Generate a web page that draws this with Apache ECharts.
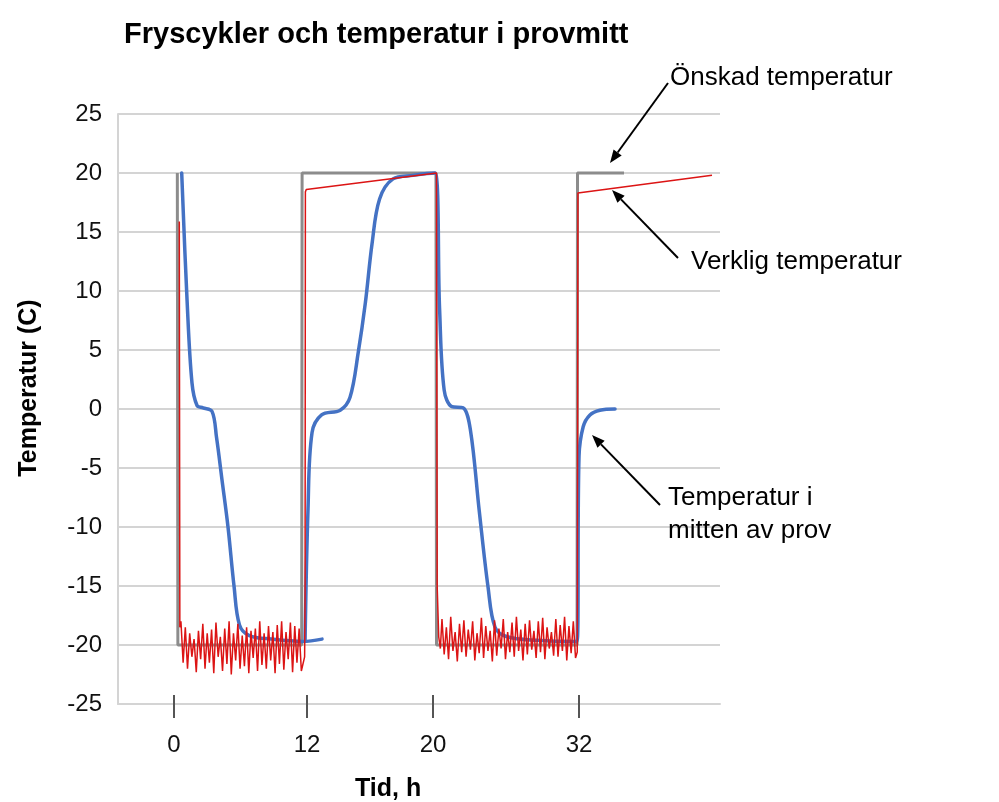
<!DOCTYPE html>
<html>
<head>
<meta charset="utf-8">
<script src="https://cdn.jsdelivr.net/npm/echarts@6/dist/echarts.min.js"></script>
<style>html,body{margin:0;padding:0;background:#fff;}#c{width:999px;height:802px;}</style>
</head>
<body>
<div id="c"></div>
<script>
// ---- Data (x in chart time units; tick positions mapped to labels) ----
var titleText = 'Fryscykler och temperatur i provmitt';
var yTitle = 'Temperatur (C)';
var xTitle = 'Tid, h';
var tickPos = [0.12, 12.27, 23.78, 37.12];
var tickLabels = ['0', '12', '20', '32'];

// Önskad temperatur (set point)
var desired = [[0.42, 20], [0.47, -20], [11.78, -20], [11.82, 20], [24.05, 20], [24.1, -20], [36.94, -20], [36.98, 20], [41.23, 20]];

// Verklig temperatur (actual), logged pieces
var realStart1 = [[0.6, 15.9], [0.65, -18.5]];
var realNoise1Start = 0.75, realNoiseStep = 0.2;
var realNoise1 = [-18.0, -21.5, -18.5, -22.0, -19.0, -21.0, -19.5, -22.3, -18.8, -21.2,
  -18.2, -22.0, -19.0, -21.5, -18.7, -22.4, -18.1, -21.0, -19.3, -22.2,
  -18.6, -21.6, -18.0, -22.5, -19.0, -21.3, -18.2, -22.0, -19.2, -21.8,
  -18.5, -22.4, -18.8, -21.1, -18.6, -22.2, -18.0, -21.7, -19.0, -22.0,
  -18.4, -21.3, -18.9, -22.4, -18.3, -21.6, -18.0, -22.1, -18.9, -21.2,
  -18.1, -22.3, -18.4, -21.5, -18.6, -22.2];
var realMid = [[12.05, -21.0], [12.09, -16.0], [12.12, 18.4], [12.2, 18.6], [24.1, 20.0], [24.16, -15.0], [24.3, -19.3], [24.45, -20.3]];
var realNoise2Start = 24.6;
var realNoise2 = [-17.8, -20.8, -18.5, -21.2, -17.6, -20.5, -18.9, -21.4, -18.2, -20.6,
  -17.9, -21.0, -18.7, -20.4, -18.0, -21.3, -19.0, -20.7, -17.7, -21.1,
  -18.4, -20.5, -18.8, -21.4, -17.9, -20.9, -18.6, -20.3, -17.8, -21.2,
  -18.9, -20.6, -18.1, -21.0, -17.6, -20.5, -18.7, -21.3, -18.2, -20.8,
  -17.9, -20.4, -18.8, -21.1, -18.0, -20.6, -17.7, -21.2, -18.5, -20.3,
  -18.9, -20.9, -17.8, -21.0, -18.3, -20.5, -17.6, -21.3, -18.4, -20.7,
  -18.0, -21.1];
var realEnd = [[36.96, -20.6], [37.02, 18.3], [49.27, 19.8]];

// Temperatur i mitten av prov (sample core)
var core1 = [[0.82, 20], [1.31, 9.2], [1.76, 2.2], [2.22, 0.3], [2.77, 0.1], [3.59, -0.2],
  [4.0, -2.4], [4.5, -6], [5.05, -10], [5.6, -15.0], [6.1, -18.3], [7.0, -19.2], [9.0, -19.5], [11.9, -19.7], [13.64, -19.5]];
var core2 = [[12.09, -19.7], [12.36, -8.5], [12.73, -2.0], [13.6, -0.5], [15.3, -0.1],
  [16.2, 1.0], [16.95, 4.8], [17.6, 9.0], [18.21, 14.0], [18.9, 17.8],
  [20.13, 19.5], [21.95, 19.8], [23.96, 20.0],
  [24.38, 8.5], [24.8, 1.6], [25.5, 0.2], [26.52, 0.1], [27.2, -1.8],
  [28.0, -8.6], [28.81, -15.1], [29.45, -18.5], [30.54, -19.3], [33.28, -19.6], [36.94, -19.7],
  [37.12, -4.0], [37.5, -1.5], [38.12, -0.5], [39.03, -0.1], [40.41, 0.0]];

// ---- Build series data ----
function noise(start, step, vals) { return vals.map(function (v, i) { return [+(start + i * step).toFixed(3), v]; }); }
var realData = [].concat(realStart1, noise(realNoise1Start, realNoiseStep, realNoise1), realMid,
  noise(realNoise2Start, realNoiseStep, realNoise2), realEnd);
var coreData = [].concat(core1, ['-'], core2);

var FONT = '"Liberation Sans", Arial, sans-serif';

function arrow(x1, y1, x2, y2) {
  var a = Math.atan2(y2 - y1, x2 - x1), L = 13, W = 5;
  var bx = x2 - L * Math.cos(a), by = y2 - L * Math.sin(a);
  var px = -Math.sin(a) * W, py = Math.cos(a) * W;
  return [
    { type: 'line', shape: { x1: x1, y1: y1, x2: bx, y2: by }, style: { stroke: '#000', lineWidth: 2 }, z: 100 },
    { type: 'polygon', shape: { points: [[x2, y2], [bx + px, by + py], [bx - px, by - py]] }, style: { fill: '#000' }, z: 100 }
  ];
}
function txt(x, y, s, size, bold, rot) {
  return { type: 'text', x: x, y: y, rotation: rot || 0, z: 100,
    style: { text: s, fill: '#000', font: (bold ? 'bold ' : '') + size + 'px ' + FONT, textVerticalAlign: 'middle', textAlign: rot ? 'center' : 'left' } };
}

var chart = echarts.init(document.getElementById('c'), null, { renderer: 'canvas' });
var gridColor = '#d4d4d4';
chart.setOption({
  animation: false,
  backgroundColor: '#ffffff',
  title: { text: titleText, left: 119, top: 15, textStyle: { fontFamily: FONT, fontWeight: 'bold', fontSize: 29, color: '#000' } },
  grid: { left: 118, right: 279, top: 114, bottom: 98, containLabel: false },
  xAxis: [{
    type: 'value', min: -5, max: 50,
    axisLine: { show: true, onZero: false, lineStyle: { color: gridColor, width: 2 } },
    splitLine: { show: false },
    axisTick: { show: true, customValues: tickPos, length: 14, lineStyle: { color: '#555', width: 2 } },
    axisLabel: { show: true, customValues: tickPos, margin: 29, fontSize: 24, fontFamily: FONT, color: '#111',
      formatter: function (v) { var best = 0; for (var i = 1; i < tickPos.length; i++) { if (Math.abs(tickPos[i] - v) < Math.abs(tickPos[best] - v)) best = i; } return tickLabels[best]; } }
  }, {
    type: 'value', min: -5, max: 50, position: 'bottom',
    axisLine: { show: false, onZero: false }, splitLine: { show: false },
    axisTick: { show: true, inside: true, customValues: tickPos, length: 9, lineStyle: { color: '#555', width: 2 } },
    axisLabel: { show: false }
  }],
  yAxis: {
    type: 'value', min: -25, max: 25, interval: 5,
    axisLine: { show: true, onZero: false, lineStyle: { color: gridColor, width: 2 } },
    axisTick: { show: false },
    splitLine: { show: true, lineStyle: { color: gridColor, width: 2 } },
    axisLabel: { fontSize: 24, fontFamily: FONT, color: '#111', margin: 16 }
  },
  series: [
    { name: 'Önskad temperatur', type: 'line', data: desired, showSymbol: false, z: 2,
      lineStyle: { color: '#8c8c8c', width: 3 } },
    { name: 'Temperatur i mitten av prov', type: 'line', data: coreData, showSymbol: false, z: 3,
      smooth: 0.35, connectNulls: false,
      lineStyle: { color: '#4472c4', width: 3.5, join: 'round', cap: 'round' } },
    { name: 'Verklig temperatur', type: 'line', data: realData, showSymbol: false, z: 4,
      lineStyle: { color: '#dc1414', width: 1.5 } }
  ],
  graphic: [].concat(
    arrow(668, 83, 610, 163),
    arrow(678, 258, 612, 190),
    arrow(660, 505, 592, 435),
    [txt(670, 78, 'Önskad temperatur', 26),
     txt(691, 262, 'Verklig temperatur', 26),
     txt(668, 498, 'Temperatur i', 26),
     txt(668, 531, 'mitten av prov', 26),
     txt(355, 789, xTitle, 25, true),
     txt(29, 388, yTitle, 25, true, Math.PI / 2)]
  )
});
</script>
</body>
</html>
